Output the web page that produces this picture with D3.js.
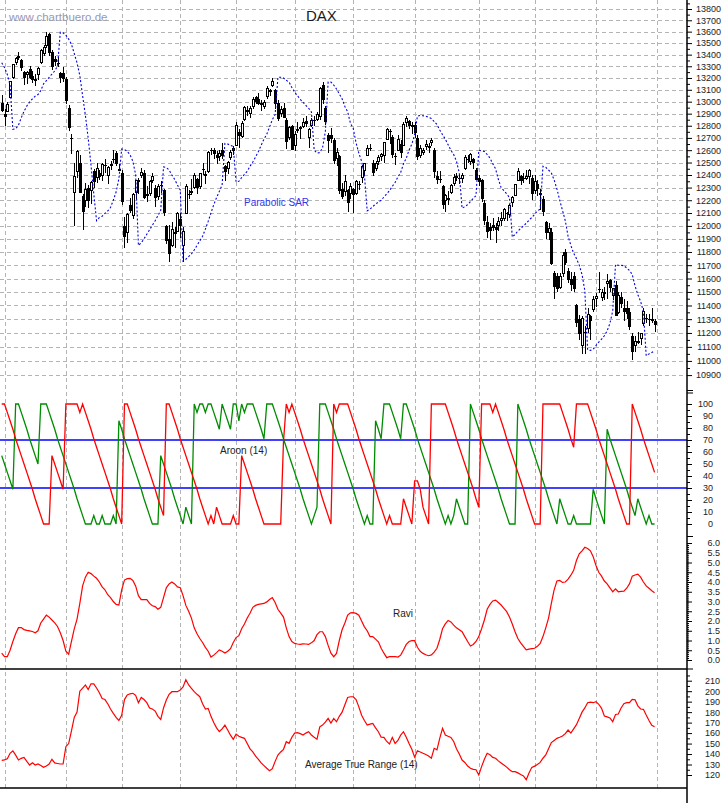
<!DOCTYPE html>
<html><head><meta charset="utf-8">
<script src="https://cdn.jsdelivr.net/npm/d3@7"></script>
<style>body{margin:0;background:#fff}svg{display:block}</style>
</head><body><svg id="c" width="723" height="803"></svg>
<script>
// ---------- DATA (index 0 = 2017-12-29, then trading days of 2018) ----------
const holidays=["2018-01-01","2018-03-30","2018-04-02","2018-05-01","2018-05-21","2018-10-03"];
const monthLabels=["2018","February","March","April","May","June","July","August","September","October","November","December"];
const priceTicks=[10900,11000,11100,11200,11300,11400,11500,11600,11700,11800,11900,12000,12100,12200,12300,12400,12500,12600,12700,12800,12900,13000,13100,13200,13300,13400,13500,13600,13700,13800];
const aroonTicks=[0,10,20,30,40,50,60,70,80,90,100];
const raviTicks=[0,0.5,1,1.5,2,2.5,3,3.5,4,4.5,5,5.5,6];
const atrTicks=[120,130,140,150,160,170,180,190,200,210];

const open=[12990,12897,12920,13039,13204,13336,13375,13350,13250,13226,
13276,13220,13175,13230,13330,13410,13480,13580,13420,13360,
13330,13240,13240,13190,12950,12700,12260,12430,12500,12230,
12200,12300,12280,12430,12380,12420,12400,12480,12400,12480,
12530,12580,12450,12420,12000,11950,12160,12080,12260,12360,
12400,12420,12250,12250,12360,12300,12230,12320,12280,12000,
11900,11850,11950,11960,12050,11850,12100,12250,12270,12300,
12370,12310,12450,12410,12430,12600,12600,12560,12550,12600,
12470,12450,12540,12600,12640,12750,12710,12850,12930,12900,
12960,13040,13020,12990,12960,13040,13100,13140,13100,12990,
12900,12950,12850,12700,12800,12640,12760,12780,12790,12840,
12700,12800,12850,12850,12880,13140,12950,12720,12720,12680,
12530,12550,12290,12270,12280,12250,12290,12250,12330,12380,
12440,12560,12620,12500,12450,12510,12550,12560,12690,12760,
12710,12550,12600,12650,12640,12830,12840,12790,12810,12700,
12560,12580,12630,12620,12660,12600,12390,12370,12310,12200,
12210,12260,12330,12380,12380,12370,12450,12530,12510,12530,
12440,12380,12360,12180,12030,11990,12010,11990,12000,12040,
12060,12100,12090,12180,12240,12360,12390,12380,12370,12390,
12380,12280,12330,12260,12210,12030,11950,11950,11640,11620,
11530,11640,11800,11660,11600,11620,11400,11300,11110,11210,
11230,11320,11370,11450,11520,11460,11500,11560,11590,11470,
11550,11350,11460,11380,11380,11350,11180,11110,11140,11160,
11270,11310,11300,11290,11290];
const high=[13060,12935,13001,13172,13321,13380,13427,13360,13262,13261,
13304,13260,13230,13290,13449,13480,13597,13590,13440,13390,
13380,13250,13290,13205,12970,12730,12500,12600,12560,12250,
12340,12320,12350,12450,12500,12440,12500,12530,12470,12510,
12600,12590,12490,12440,12070,12100,12220,12260,12360,12380,
12460,12440,12310,12360,12420,12320,12330,12350,12290,12010,
12010,12030,11990,12110,12100,11990,12330,12280,12370,12420,
12380,12420,12500,12430,12590,12620,12620,12590,12600,12660,
12480,12510,12600,12630,12830,12770,12840,12960,12960,12960,
13040,13050,13070,13010,13010,13130,13110,13200,13110,13010,
12960,12990,12860,12800,12810,12760,12830,12800,12860,12880,
12780,12860,12880,12910,13120,13170,12960,12740,12780,12700,
12620,12560,12340,12400,12290,12340,12300,12360,12350,12480,
12500,12640,12650,12520,12510,12560,12580,12670,12780,12770,
12720,12580,12720,12680,12830,12880,12850,12830,12830,12720,
12640,12620,12680,12660,12700,12620,12430,12430,12320,12250,
12270,12330,12410,12420,12400,12420,12560,12560,12580,12540,
12460,12400,12370,12200,12080,12020,12060,12020,12070,12110,
12140,12110,12170,12230,12330,12460,12400,12420,12440,12450,
12400,12400,12360,12290,12230,12040,12020,11980,11660,11640,
11640,11800,11820,11680,11650,11650,11410,11330,11320,11250,
11380,11330,11470,11490,11650,11520,11540,11630,11600,11530,
11580,11500,11500,11450,11430,11380,11200,11180,11210,11200,
11380,11340,11340,11380,11300];
const low=[12910,12798,12910,13030,13193,13310,13358,13260,13138,13146,
13195,13160,13129,13180,13320,13390,13460,13390,13270,13300,
13290,13157,13164,12980,12760,12570,12003,12380,12260,11968,
12150,12140,12170,12300,12340,12360,12350,12420,12330,12440,
12500,12470,12430,12160,11831,11865,12100,12050,12210,12250,
12380,12210,12190,12230,12340,12150,12200,12260,12080,11860,
11727,11840,11830,11950,11905,11726,12090,12210,12240,12290,
12250,12290,12400,12330,12420,12560,12530,12490,12510,12530,
12350,12410,12520,12560,12630,12620,12700,12840,12880,12860,
12940,12980,12970,12920,12940,13020,13050,13120,12940,12840,
12870,12860,12610,12680,12600,12590,12740,12690,12780,12790,
12620,12790,12800,12840,12850,12980,12810,12580,12660,12490,
12470,12250,12210,12230,12110,12210,12100,12240,12280,12340,
12400,12550,12590,12390,12430,12480,12510,12500,12680,12650,
12540,12480,12600,12540,12630,12790,12770,12730,12700,12520,
12540,12560,12600,12580,12630,12380,12330,12340,12130,12110,
12160,12250,12310,12350,12330,12340,12440,12500,12480,12450,
12360,12310,12190,12010,11910,11890,11960,11870,11960,12000,
12040,12040,12060,12150,12230,12350,12320,12340,12360,12330,
12200,12250,12230,12120,12080,11900,11890,11700,11450,11500,
11520,11610,11700,11570,11510,11500,11240,11150,11050,11050,
11200,11150,11350,11390,11490,11430,11440,11450,11500,11440,
11320,11340,11380,11290,11300,11220,11010,11060,11120,11110,
11250,11270,11250,11270,11210];
const close=[12918,12871,12978,13167,13319,13367,13385,13281,13202,13245,
13201,13183,13184,13282,13434,13463,13560,13415,13298,13340,
13324,13198,13189,13004,12785,12687,12392,12590,12260,12107,
12282,12196,12339,12346,12452,12385,12488,12470,12461,12483,
12527,12490,12436,12190,11914,12090,12114,12245,12355,12346,
12418,12221,12237,12345,12390,12217,12307,12309,12100,11886,
11787,11970,11940,12096,12002,11957,12305,12241,12261,12397,
12293,12415,12442,12391,12585,12590,12567,12540,12572,12550,
12422,12500,12580,12612,12802,12718,12820,12948,12912,12943,
13022,13001,12977,12970,12996,13114,13078,13169,12977,12855,
12938,12863,12666,12783,12605,12724,12771,12787,12830,12811,
12767,12842,12842,12890,13107,13010,12834,12677,12695,12512,
12580,12270,12228,12348,12177,12306,12238,12349,12317,12465,
12496,12610,12609,12417,12492,12541,12561,12662,12765,12746,
12561,12548,12690,12579,12809,12860,12798,12806,12737,12546,
12616,12598,12648,12633,12676,12424,12358,12358,12163,12237,
12210,12313,12384,12385,12365,12394,12538,12527,12561,12494,
12364,12346,12210,12040,11955,11959,11987,11970,12032,12055,
12124,12096,12157,12219,12327,12431,12350,12374,12385,12435,
12247,12346,12287,12244,12111,11947,11977,11712,11539,11524,
11614,11777,11715,11589,11553,11524,11274,11191,11307,11201,
11335,11287,11447,11468,11519,11495,11484,11579,11527,11529,
11325,11472,11412,11353,11341,11244,11066,11138,11140,11193,
11354,11309,11298,11299,11257];
const sar=[13330,13290,13230,13140,12770,12775,12805,12866,12920,12964,
12997,13024,13046,13060,13093,13150,13177,13206,13233,13260,
13300,13595,13590,13570,13535,13490,13410,13330,13220,13050,
12885,12697,12480,12250,12040,12065,12075,12097,12116,12143,
12200,12265,12370,12610,12605,12590,12563,12510,12404,11850,
11870,11900,11935,11970,12005,12040,12080,12120,12465,12460,
12440,12400,12365,12320,12280,11730,11745,11765,11785,11815,
11850,11885,11920,11975,12035,12100,12165,12220,12270,12320,
12655,12650,12640,12630,12345,12350,12380,12405,12430,12470,
12505,12545,12590,12640,12690,12730,12790,12850,12892,13206,
13206,13200,13180,13165,13120,13080,13050,13020,12995,12970,
12945,12915,12600,12576,12580,12620,12750,13165,13165,13140,
13107,13065,13024,12960,12915,12820,12778,12660,12576,12510,
12400,12117,12130,12150,12170,12185,12200,12225,12250,12275,
12310,12340,12385,12420,12490,12535,12600,12650,12726,12880,
12885,12882,12880,12870,12860,12835,12810,12765,12726,12690,
12644,12600,12564,12510,12417,12137,12150,12165,12190,12215,
12236,12600,12595,12590,12565,12536,12490,12450,12366,12300,
12275,12250,12221,11913,11935,11960,11980,12000,12020,12045,
12065,12090,12115,12131,12470,12462,12440,12417,12360,12290,
12200,12120,12040,11920,11850,11790,11750,11700,11630,11510,
11080,11075,11083,11110,11135,11155,11180,11215,11270,11360,
11705,11700,11700,11695,11680,11660,11630,11545,11480,11430,
11355,11037,11050,11060,11072];
const aroonUp=[57,50,43,36,29,100,100,93,86,79,
71,64,57,50,100,100,100,93,86,79,
71,64,57,50,43,36,29,21,14,7,
0,0,0,7,0,0,7,0,0,0,
7,0,86,79,71,64,57,50,43,36,
29,21,14,7,0,0,0,57,50,43,
36,29,21,14,7,0,14,7,0,100,
93,100,100,93,100,100,93,86,79,100,
93,86,79,100,100,86,100,93,100,100,
100,93,86,79,71,100,100,100,93,86,
79,71,64,57,50,43,36,29,21,14,
7,0,7,14,100,100,100,93,86,79,
71,64,57,50,43,36,29,21,14,7,
0,7,0,0,86,79,71,100,100,100,
93,86,79,71,100,100,93,86,79,71,
64,57,50,43,36,29,21,14,7,0,
7,0,7,21,14,7,0,0,100,93,
86,79,71,64,57,50,43,36,29,21,
14,7,0,0,0,100,93,86,79,71,
64,57,50,43,36,29,21,14,7,0,
21,14,7,0,0,7,0,0,0,0,
0,0,29,21,14,7,0,79,71,64,
57,50,43,36,29,21,14,7,21,14,
7,0,7,0,0];
const aroonDown=[100,100,93,86,79,71,64,57,50,43,
36,29,21,14,7,0,0,0,57,50,
43,36,29,100,100,100,100,100,93,100,
93,86,79,71,64,57,50,43,36,29,
21,14,7,0,100,100,93,86,79,71,
64,57,50,43,36,29,21,14,7,100,
100,93,86,79,71,64,57,50,43,36,
29,21,14,7,0,7,0,14,7,0,
0,0,0,7,0,0,57,50,43,36,
29,21,14,7,0,0,0,0,0,0,
0,69,100,93,100,93,86,79,71,64,
57,50,43,36,29,21,14,7,0,100,
93,100,100,100,100,93,86,79,71,64,
57,50,43,36,29,21,14,7,0,7,
0,0,0,0,21,14,7,0,36,36,
29,14,7,0,100,100,100,100,100,100,
93,86,79,71,64,57,50,43,36,29,
21,14,100,100,100,100,93,100,93,86,
79,71,64,57,50,43,36,29,21,14,
7,0,0,0,100,100,100,100,100,100,
100,93,86,79,71,64,100,100,100,100,
100,93,86,79,71,64,57,50,43,36,
29,21,14,7,0,0,100,93,86,79,
71,64,57,50,43];
const ravi=[0.35,0.17,0.17,0.5,0.95,1.35,1.66,1.66,1.56,1.52,
1.49,1.46,1.4,1.5,1.9,2.1,2.3,2.2,2.05,1.9,
1.72,1.4,1.0,0.45,0.3,0.95,1.6,2.1,2.9,3.8,
4.25,4.5,4.43,4.3,4.19,4.0,3.75,3.6,3.35,3.2,
3.0,2.85,2.82,3.6,4.1,4.17,4.19,4.08,3.8,3.3,
3.1,3.1,3.1,2.9,2.78,2.74,2.6,2.7,3.2,3.7,
3.9,4.0,3.9,3.75,3.71,3.3,2.8,2.5,2.15,1.65,
1.35,1.1,0.9,0.65,0.45,0.15,0.25,0.38,0.52,0.45,
0.36,0.45,0.58,0.9,1.15,1.25,1.6,1.85,2.15,2.4,
2.7,2.8,2.85,2.88,2.9,2.98,3.1,3.2,2.95,2.6,
2.4,2.2,1.65,1.2,0.95,0.85,0.82,0.8,0.83,0.82,
0.8,0.88,1.0,1.3,1.45,1.45,1.2,0.75,0.35,0.17,
0.34,1.0,1.55,1.9,2.3,2.42,2.43,2.39,2.3,2.0,
1.7,1.5,1.2,1.2,1.07,0.93,0.6,0.35,0.12,0.17,
0.17,0.17,0.15,0.25,0.51,0.8,0.95,0.99,0.99,0.65,
0.45,0.34,0.27,0.22,0.26,0.4,0.6,1.05,1.6,1.85,
2.03,1.95,1.79,1.65,1.55,1.45,1.2,0.95,0.72,0.8,
0.95,1.2,1.6,2.05,2.6,2.85,3.03,3.07,2.95,2.82,
2.65,2.48,2.2,1.85,1.45,1.1,0.88,0.7,0.52,0.56,
0.58,0.6,0.7,0.85,1.2,1.65,2.15,2.9,3.6,4.05,
4.08,3.98,4.0,4.15,4.35,4.6,5.1,5.45,5.6,5.78,
5.72,5.6,5.3,4.85,4.5,4.3,4.05,3.9,3.7,3.5,
3.65,3.5,3.52,3.53,3.68,3.9,4.3,4.36,4.4,4.25,
4.0,3.8,3.68,3.55,3.45];
const atr=[134,134.4,135.5,140.7,143,139,134.3,135.9,136.8,133,
129.5,131.7,129.5,130.5,129,127.3,128.6,130.5,135,131.5,
131,130.5,130.5,147,150,162,175,180,200,203,
206,201.5,207,207,203,198.5,193,192,188,183,
178.8,175,172,177,192,196.3,197.5,198,196,189,
194,192,189,184,183,181,176,173,184,191.5,
197,199.5,199.5,199.5,201,204,211,205.9,202.7,199.5,
197,194.7,188,183,183.6,176,170,165,161.5,164,
167.6,163,158,154,159,157,155.9,155,150,145,
142,138,135,131.5,129,126.4,124,126,133,139,
142,144.5,151.8,150.2,156,160,160.4,159.5,158.2,160,
161.3,158.2,156,154.1,166,167.6,170.5,174,169.5,174,
170.9,176,180,187,194,194.7,194.7,192,185,177,
172,167.6,168.5,169.3,165,161.3,156,155.9,152,149.6,
155.9,150.2,153,158,161.3,156,150,144.5,137,143.2,
142,140.7,139.5,138.2,136,145.5,144,155,164.5,158.2,
157,155.9,152,145,140,134.3,132,128.5,126.4,125.4,
125,120,128,135,140.7,139.3,136.8,136,133.5,131.5,
129.5,127.5,125,123.2,123.2,122,120.5,119.1,115.5,122,
127.3,128.5,130,132,136,139.1,145,151,153,155,
156,157.2,159.5,162.9,160,164,168,174,180,184,
189,189.5,189,190,187.5,183.6,176.3,175.5,174.5,170.9,
177.8,178.2,184,188,189,189,192.2,191.8,186,183,
182.7,177.2,172,167.5,166];

// ---------- trading calendar (categories) ----------
const days=[];
for(let d=new Date(Date.UTC(2017,11,29)); days.length<236; d=new Date(d.getTime()+864e5)){
  const wd=d.getUTCDay(), s=d.toISOString().slice(0,10);
  if(wd===0||wd===6||holidays.includes(s)) continue;
  days.push(d);
}
const monthStarts=[], weekStarts=[];
for(let i=1;i<days.length;i++){
  if(days[i].getUTCMonth()!==days[i-1].getUTCMonth()) monthStarts.push(i);
  else if(days[i].getUTCDay()<=days[i-1].getUTCDay()) weekStarts.push(i);
}

// ---------- LAYOUT ----------
const R=687, AXB=788;
const FONT="Arial, 'Liberation Sans', sans-serif";
const svg=d3.select("#c");
const x=d3.scaleLinear().domain([0,234]).range([1.71,654.57]);
const yP=d3.scaleLog().domain([10900,13800]).range([375.1,9]);
const yA=d3.scaleLinear().domain([0,100]).range([524,404]);
const yR=d3.scaleLinear().domain([0,6]).range([660,543]);
const yT=d3.scaleLinear().domain([120,210]).range([775,680.7]);
const idx=d3.range(close.length);

const defs=svg.append("defs");
defs.append("clipPath").attr("id","cp").append("rect").attr("x",0).attr("y",0).attr("width",R).attr("height",AXB);
defs.append("clipPath").attr("id","cpb").append("rect").attr("x",0).attr("y",AXB).attr("width",R).attr("height",20);

// grid
const grid=svg.append("g").attr("clip-path","url(#cp)");
grid.selectAll("line.h").data(priceTicks).join("line")
  .attr("x1",0).attr("x2",R).attr("y1",d=>Math.round(yP(d))+0.5).attr("y2",d=>Math.round(yP(d))+0.5)
  .attr("stroke","#b4b4b4").attr("stroke-dasharray","4,3");
grid.selectAll("line.v").data(monthStarts).join("line")
  .attr("x1",d=>Math.round(x(d))+0.5).attr("x2",d=>Math.round(x(d))+0.5).attr("y1",0).attr("y2",AXB)
  .attr("stroke","#b4b4b4").attr("stroke-dasharray","4,3");

const plot=svg.append("g").attr("clip-path","url(#cp)");

// candles
const cg=plot.append("g").attr("shape-rendering","crispEdges");
idx.forEach(i=>{
  const px=Math.round(x(i));
  cg.append("line").attr("x1",px+0.5).attr("x2",px+0.5).attr("y1",yP(high[i])).attr("y2",yP(low[i])).attr("stroke","#000");
  const top=yP(Math.max(open[i],close[i])), bot=yP(Math.min(open[i],close[i]));
  if(close[i]>=open[i]){
    cg.append("rect").attr("x",px-0.5).attr("y",top).attr("width",2).attr("height",Math.max(1,bot-top))
      .attr("fill","#fff").attr("stroke","#000");
  } else {
    cg.append("rect").attr("x",px-1).attr("y",top).attr("width",3).attr("height",Math.max(1,bot-top)).attr("fill","#000");
  }
});

// Parabolic SAR
plot.append("path").attr("d",d3.line().x(i=>x(i)).y(i=>yP(sar[i]))(idx))
  .attr("fill","none").attr("stroke","#0000e6").attr("stroke-width",1.1).attr("stroke-dasharray","2,2");

// Aroon reference lines
[70,30].forEach(v=>plot.append("line").attr("x1",0).attr("x2",R).attr("y1",yA(v)).attr("y2",yA(v))
  .attr("stroke","#0000ff").attr("stroke-width",1.5));
const lineA=d3.line().x(i=>x(i));
plot.append("path").attr("d",lineA.y(i=>yA(aroonUp[i]))(idx)).attr("fill","none").attr("stroke","#008c00").attr("stroke-width",1.3);
plot.append("path").attr("d",lineA.y(i=>yA(aroonDown[i]))(idx)).attr("fill","none").attr("stroke","#ff0000").attr("stroke-width",1.3);

// Ravi
plot.append("path").attr("d",d3.line().x(i=>x(i)).y(i=>yR(ravi[i]))(idx)).attr("fill","none").attr("stroke","#ff0000").attr("stroke-width",1.2);
// ATR
plot.append("path").attr("d",d3.line().x(i=>x(i)).y(i=>yT(atr[i]))(idx)).attr("fill","none").attr("stroke","#ff0000").attr("stroke-width",1.2);

// separator between Ravi and ATR
svg.append("line").attr("x1",0).attr("x2",R).attr("y1",669).attr("y2",669).attr("stroke","#000").attr("stroke-width",1.5);

// right axis
const ax=svg.append("g").attr("transform",`translate(${R},0)`).attr("font-family",FONT);
function styleAxis(g,anchorX){
  g.select(".domain").remove();
  g.selectAll("text").attr("text-anchor","end").attr("x",anchorX).attr("fill","#222").attr("font-size",9).attr("font-family",FONT);
  g.selectAll("line").attr("stroke","#000");
}
ax.append("g").call(d3.axisRight(yP).tickValues(priceTicks).tickSize(5).tickFormat(d3.format("d"))).call(g=>styleAxis(g,34));
ax.append("g").call(d3.axisRight(yP).tickValues(priceTicks.map(v=>v+50)).tickSize(3).tickFormat("")).call(g=>g.select(".domain").remove());
ax.append("g").call(d3.axisRight(yA).tickValues(aroonTicks).tickSize(5).tickFormat(d3.format("d"))).call(g=>styleAxis(g,26));
ax.append("g").call(d3.axisRight(yA).tickValues(aroonTicks.slice(0,-1).map(v=>v+5)).tickSize(3).tickFormat("")).call(g=>g.select(".domain").remove());
ax.append("g").call(d3.axisRight(yR).tickValues(raviTicks).tickSize(5).tickFormat(d3.format(".1f"))).call(g=>styleAxis(g,33));
ax.append("g").call(d3.axisRight(yR).tickValues(d3.range(0,6,0.1)).tickSize(2).tickFormat("")).call(g=>g.select(".domain").remove());
ax.append("g").call(d3.axisRight(yT).tickValues(atrTicks).tickSize(5).tickFormat(d3.format("d"))).call(g=>styleAxis(g,33));
ax.append("g").call(d3.axisRight(yT).tickValues(atrTicks.map(v=>v+5)).tickSize(3).tickFormat("")).call(g=>g.select(".domain").remove());
// panel boundary marks
[390.5,393,536.5,669].forEach(yv=>ax.append("line").attr("x1",0).attr("x2",6).attr("y1",yv).attr("y2",yv).attr("stroke","#000"));
svg.append("line").attr("x1",R).attr("x2",R).attr("y1",0).attr("y2",AXB+15).attr("stroke","#000").attr("stroke-width",1.5);

// bottom axis
svg.append("line").attr("x1",0).attr("x2",R).attr("y1",AXB).attr("y2",AXB).attr("stroke","#000").attr("stroke-width",1.5);
const bx=svg.append("g").attr("transform",`translate(0,${AXB})`).attr("clip-path","url(#cpb)");
bx.append("g").call(d3.axisBottom(x).tickValues(weekStarts).tickSize(6).tickFormat(""))
  .call(g=>{g.select(".domain").remove();g.selectAll("line").attr("stroke","#000").attr("transform",d=>`translate(${Math.round(x(d))+0.5-x(d)},0)`);});
bx.append("g").call(d3.axisBottom(x).tickValues(monthStarts).tickSize(15).tickFormat((d,i)=>monthLabels[i]))
  .call(g=>{g.select(".domain").remove();
    g.selectAll("line").attr("stroke","#000");
    g.selectAll("text").attr("text-anchor","start").attr("x",2).attr("y",14).attr("dy",0)
      .attr("font-size",9).attr("font-family",FONT).attr("fill","#222");});

// texts
svg.append("text").attr("x",9).attr("y",20.5).text("www.chartbuero.de")
  .attr("font-family",FONT).attr("font-size",11.5).attr("fill","#9898b4");
svg.append("text").attr("x",306).attr("y",21).text("DAX").attr("font-family",FONT).attr("font-size",15).attr("fill","#1a1a1a");
svg.append("text").attr("x",244).attr("y",206).text("Parabolic SAR").attr("font-family",FONT).attr("font-size",10).attr("fill","#3434f0");
svg.append("text").attr("x",220).attr("y",454).text("Aroon (14)").attr("font-family",FONT).attr("font-size",10).attr("fill","#222");
svg.append("text").attr("x",393).attr("y",616.5).text("Ravi").attr("font-family",FONT).attr("font-size",10).attr("fill","#222");
svg.append("text").attr("x",305).attr("y",768).text("Average True Range (14)").attr("font-family",FONT).attr("font-size",10).attr("fill","#222");
</script></body></html>
